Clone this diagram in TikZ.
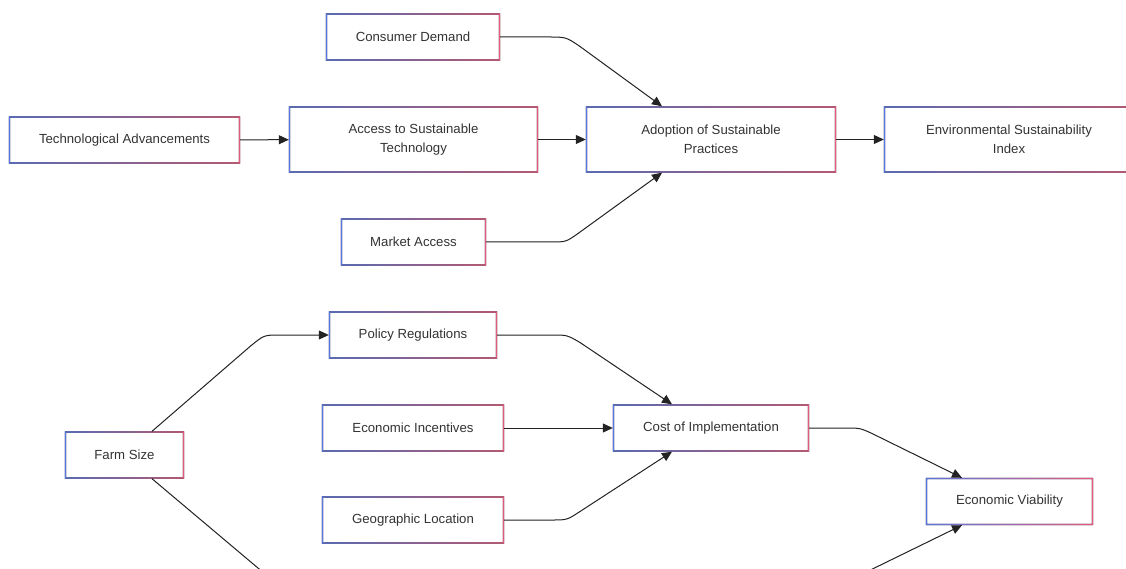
\documentclass[tikz,border=0pt]{standalone}
\usepackage{fontspec}
\setmainfont{Liberation Sans}
\usetikzlibrary{arrows.meta,calc}
\definecolor{bl}{RGB}{90,118,225}
\definecolor{rd}{RGB}{228,90,128}
\definecolor{tx}{RGB}{51,51,51}
\definecolor{ln}{RGB}{35,35,35}
\tikzset{
  box/.style={minimum width=#1, minimum height=47pt, inner sep=0pt, align=center,
    font=\fontsize{13.2}{19}\selectfont, text=tx},
  tallbox/.style={box=#1, minimum height=66pt},
  ring/.style={left color=bl, right color=rd, even odd rule},
  conn/.style={draw=ln, line width=1pt, -{Triangle[length=10pt,width=9pt]}},
  plain/.style={draw=ln, line width=1pt}
}
\newcommand\gradring[1]{%
  \fill[ring] (#1.south west) rectangle (#1.north east)
    ([shift={(1.25pt,1.25pt)}]#1.south west) rectangle ([shift={(-1.25pt,-1.25pt)}]#1.north east);}
\begin{document}
\begin{tikzpicture}[x=1pt,y=-1pt]
\useasboundingbox (0,0) rectangle (1126,569);
\fill[white] (0,0) rectangle (1126,569);

\node[box=174pt] (cd) at (413,37) {Consumer Demand};
\node[box=231pt] (ta) at (124.5,140) {Technological Advancements};
\node[tallbox=249pt] (as) at (413.5,139.5) {Access to Sustainable\\Technology};
\node[tallbox=250pt] (ad) at (711,139.5) {Adoption of Sustainable\\Practices};
\node[tallbox=250pt] (es) at (1009,139.5) {Environmental Sustainability\\Index};
\node[box=145pt] (ma) at (413.5,242) {Market Access};
\node[box=168pt] (pr) at (413,335) {Policy Regulations};
\node[box=182pt] (ei) at (413,428) {Economic Incentives};
\node[box=196pt] (ci) at (711,428) {Cost of Implementation};
\node[box=182pt] (gl) at (413,520) {Geographic Location};
\node[box=119pt] (fs) at (124.5,455) {Farm Size};
\node[box=167pt] (ev) at (1009.5,501.5) {Economic Viability};

\foreach \n in {cd,ta,as,ad,es,ma,pr,ei,ci,gl,fs,ev} {\gradring{\n}}

\coordinate (offa) at (271,579);
\coordinate (offb) at (852,579);

\draw[conn] (cd.east) -- (548,37) .. controls (566,37) .. (580,46.5) -- ([xshift=-49pt]ad.north);
\draw[conn] (ta) -- (as);
\draw[conn] (as) -- (ad);
\draw[conn] (ad) -- (es);
\draw[conn] (ma.east) -- (550,242) .. controls (566,242) .. (578,233.5) -- ([xshift=-49pt]ad.south);
\draw[conn] ([xshift=27.5pt]fs.north) -- (250,346.5) .. controls (264,335) .. (280,335) -- (pr.west);
\draw[plain] ([xshift=27.5pt]fs.south) -- (offa);
\draw[conn] (pr.east) -- (552,335) .. controls (567,335) .. (580,342.5) -- ([xshift=-39pt]ci.north);
\draw[conn] (ei) -- (ci);
\draw[conn] (gl.east) -- (552,520) .. controls (567,520) .. (580,511.5) -- ([xshift=-39pt]ci.south);
\draw[conn] (ci.east) -- (845,428) .. controls (860,428) .. (872,433.5) -- ([xshift=-47.5pt]ev.north);
\draw[conn] (offb) -- ([xshift=-47.5pt]ev.south);
\end{tikzpicture}
\end{document}
